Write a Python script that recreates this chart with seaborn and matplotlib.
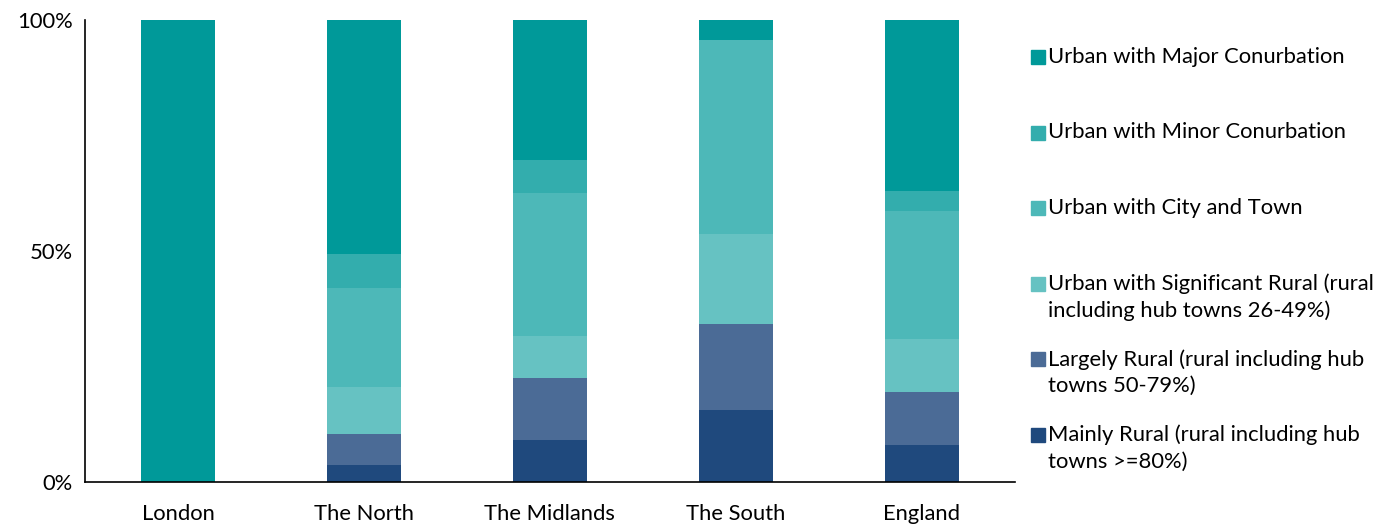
import numpy as np
import matplotlib.pyplot as plt
import seaborn as sns
import pandas as pd
from matplotlib.patches import Rectangle

# Data (share of each area type, %)
regions = ['London', 'The North', 'The Midlands', 'The South', 'England']
categories = [
    'Mainly Rural (rural including hub\ntowns >=80%)',
    'Largely Rural (rural including hub\ntowns 50-79%)',
    'Urban with Significant Rural (rural\nincluding hub towns 26-49%)',
    'Urban with City and Town',
    'Urban with Minor Conurbation',
    'Urban with Major Conurbation',
]
mainly_rural = [0.0, 3.8, 9.2, 15.6, 8.1]
largely_rural = [0.0, 6.5, 13.3, 18.7, 11.3]
significant_rural = [0.0, 10.3, 9.0, 19.3, 11.6]
city_town = [0.0, 21.5, 31.1, 42.1, 27.6]
minor_conurbation = [0.0, 7.2, 7.0, 0.0, 4.3]
major_conurbation = [100.0, 50.7, 30.4, 4.3, 37.1]

colors = ['#1F497D', '#4B6B96', '#66C2C2', '#4DB8B8', '#33ADAD', '#009999']

df = pd.DataFrame({
    categories[0]: mainly_rural,
    categories[1]: largely_rural,
    categories[2]: significant_rural,
    categories[3]: city_town,
    categories[4]: minor_conurbation,
    categories[5]: major_conurbation,
}, index=regions)
cum = df.cumsum(axis=1)

sns.set_style('white')
plt.rcParams['font.family'] = ['Lato', 'DejaVu Sans']
plt.rcParams['text.color'] = 'black'
FS = 15.8

fig = plt.figure(figsize=(13.94, 5.24), dpi=100)
ax = fig.add_axes([0.061, 0.080, 0.667, 0.882])

# stacked bars: draw cumulative totals, tallest first
for cat, col in reversed(list(zip(categories, colors))):
    sns.barplot(x=regions, y=cum[cat].values, color=col, saturation=1,
                width=0.4, linewidth=0, ax=ax)

ax.set_xlim(-0.5, 4.5)
ax.set_ylim(0, 100)
ax.set_yticks([0, 50, 100])
ax.set_yticklabels(['0%', '50%', '100%'], fontsize=FS, color='black')
ax.set_xticks(range(len(regions)))
ax.set_xticklabels(regions, fontsize=FS, color='black')
ax.set_xticks(np.arange(-0.5, 5, 1), minor=True)
ax.tick_params(axis='x', which='major', length=0, pad=16)
ax.tick_params(axis='x', which='minor', length=6, width=1.2, color='black', direction='out')
ax.tick_params(axis='y', length=5, width=1.2, color='black', direction='out', pad=4)
ax.set_xlabel('')
ax.set_ylabel('')
for s in ['top', 'right']:
    ax.spines[s].set_visible(False)
for s in ['left', 'bottom']:
    ax.spines[s].set_color('black')
    ax.spines[s].set_linewidth(1.2)

# legend, top to bottom, handle aligned with first text line
leg_x = 1031 / 1394
top_y = 1 - 57 / 524
step = 75.5 / 524
for i, (cat, col) in enumerate(reversed(list(zip(categories, colors)))):
    y = top_y - i * step
    fig.patches.append(Rectangle((leg_x, y - 7 / 524), 14 / 1394, 14 / 524,
                                 transform=fig.transFigure, color=col))
    fig.text(leg_x + 17 / 1394, y + 10 / 524, cat, fontsize=FS, va='top',
             ha='left', linespacing=1.4, color='black')

fig.savefig('out.png', dpi=100)
